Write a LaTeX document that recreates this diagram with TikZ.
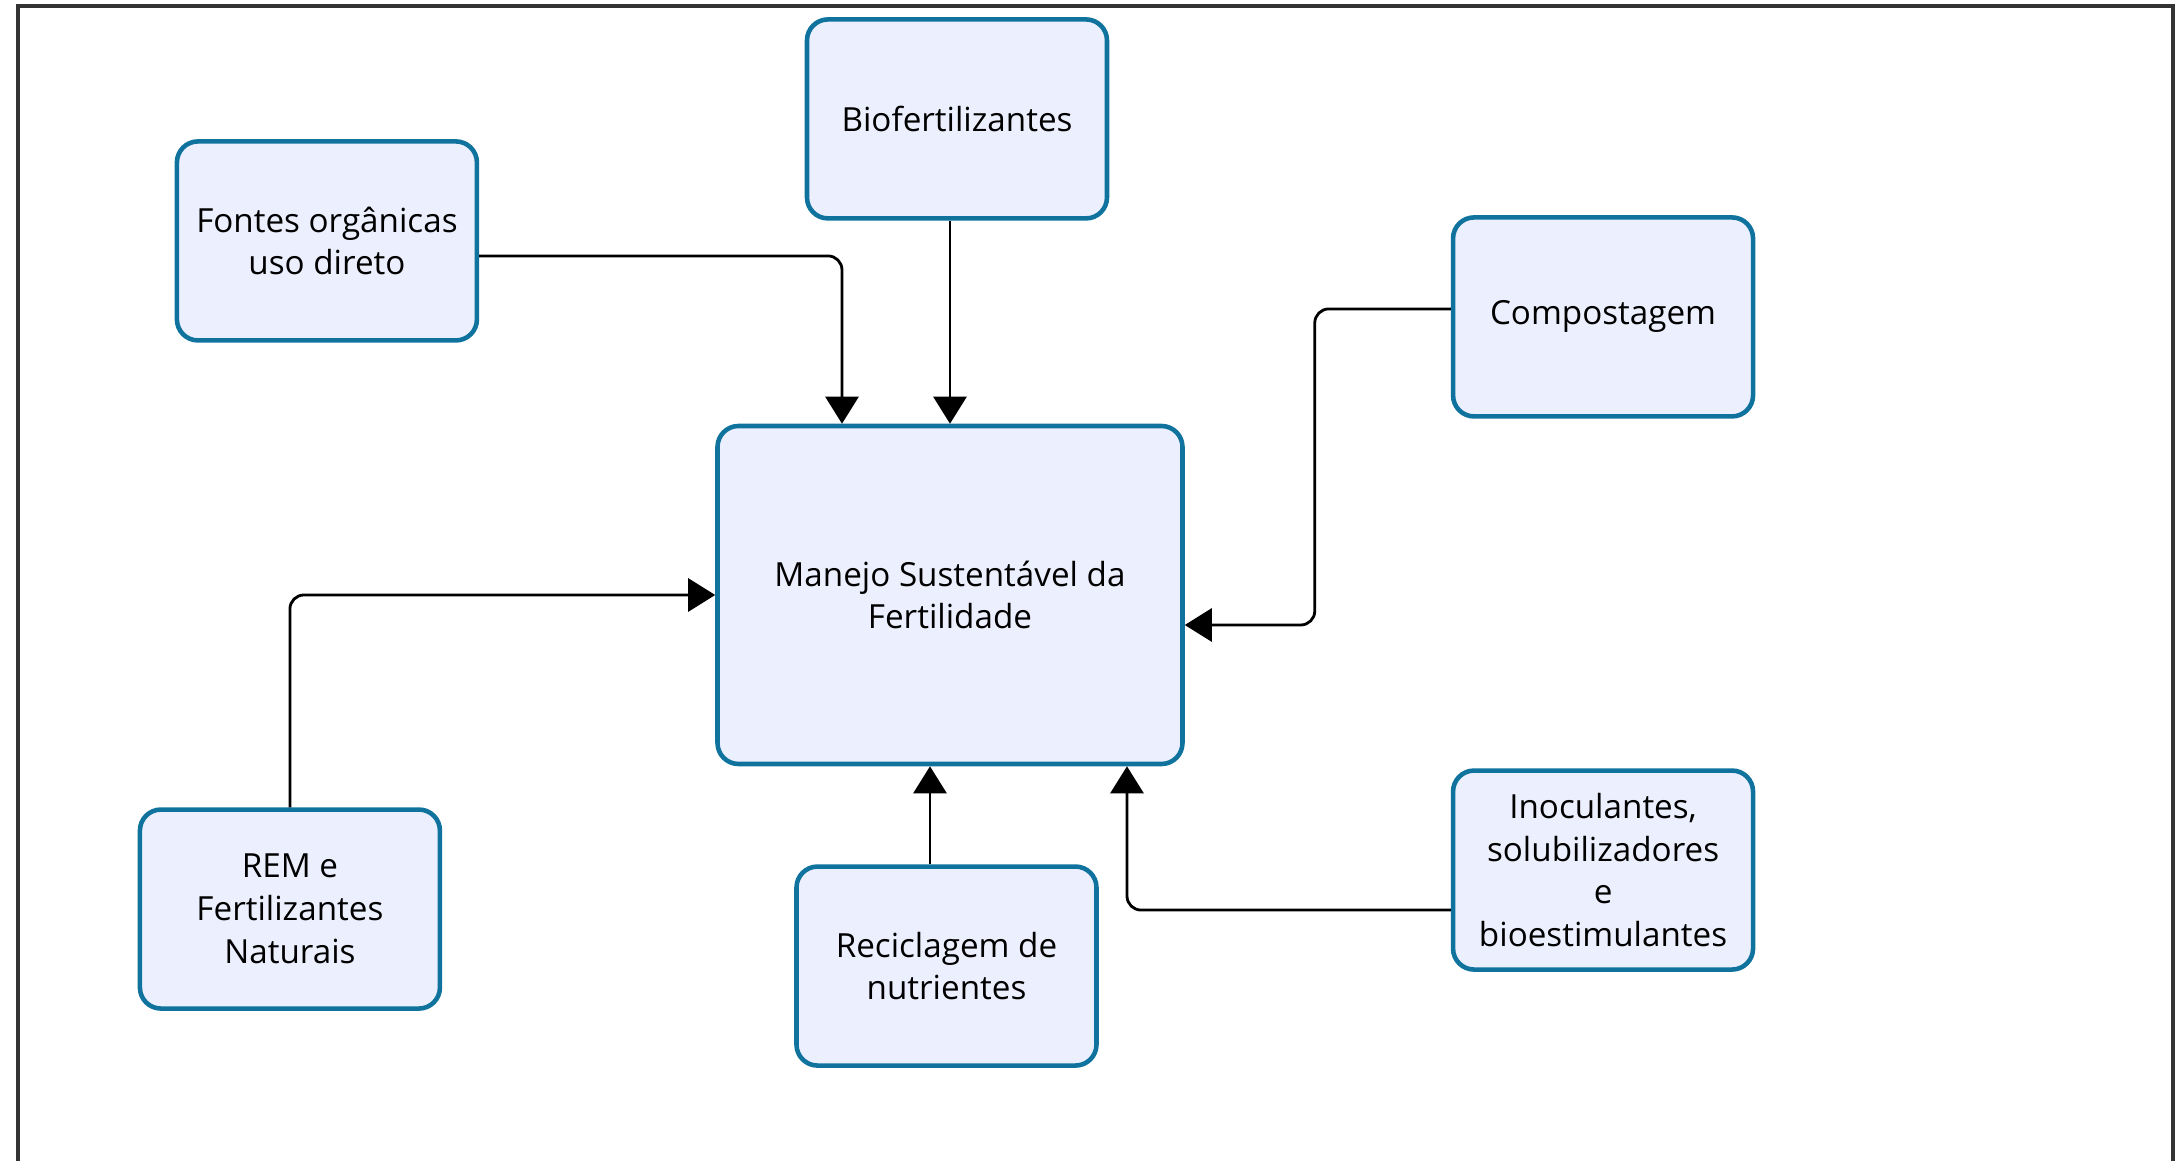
\documentclass[tikz,border=0pt]{standalone}
\usepackage{fontspec}
\setmainfont{Open Sans}
\usepackage{tikz}
\usetikzlibrary{arrows.meta,positioning,calc}
\definecolor{boxline}{HTML}{10739E}
\definecolor{boxfill}{HTML}{ECEFFD}
\tikzset{
  box/.style={draw=boxline, fill=boxfill, line width=1.3pt, rounded corners=0.21cm,
    minimum width=3.0cm, minimum height=1.99cm, align=center, inner sep=3pt,
    font=\fontsize{9.45}{12.2}\selectfont},
  hub/.style={box, minimum width=4.65cm, minimum height=3.38cm},
  arr/.style={-{Triangle[length=0.27cm,width=0.33cm]}, line width=0.8pt, rounded corners=0.14cm},
  frame/.style={line width=1pt, draw=black!80}
}
\begin{document}
\begin{tikzpicture}
\useasboundingbox (-9.50,-5.66) rectangle (12.32,5.95);
\draw[frame] (-9.32,-5.66) -- (-9.32,5.89) -- (12.23,5.89) -- (12.23,-5.66);

\node[hub] (main) at (0,0) {Manejo Sustentável da\\Fertilidade};
\node[box, above=2.03cm of main, xshift=0.07cm] (bio) {Biofertilizantes};
\node[box, above left=0.81cm and 2.36cm of main] (fontes) {Fontes orgânicas\\uso direto};
\node[box, above right=0.05cm and 2.66cm of main] (comp) {Compostagem};
\node[box, below left=0.41cm and 2.73cm of main] (rem) {REM e\\Fertilizantes\\Naturais};
\node[box, below=0.98cm of main, xshift=-0.035cm] (recic) {Reciclagem de\\nutrientes};
\node[box, below right=0.02cm and 2.66cm of main] (inoc) {Inoculantes,\\solubilizadores\\e\\bioestimulantes};

\draw[arr] ([yshift=-0.15cm]fontes.east) -| ([xshift=-1.08cm]main.north);
\draw[arr] (main.north |- bio.south) -- (main.north);
\draw[arr] ([yshift=0.08cm]comp.west) -- ++(-1.36,0) |- ([yshift=-0.30cm]main.east);
\draw[arr] (rem) |- (main);
\draw[arr] ([xshift=-0.2cm]main.south |- recic.north) -- ([xshift=-0.2cm]main.south);
\draw[arr] ([yshift=-0.40cm]inoc.west) -| ([xshift=1.77cm]main.south);
\end{tikzpicture}
\end{document}
